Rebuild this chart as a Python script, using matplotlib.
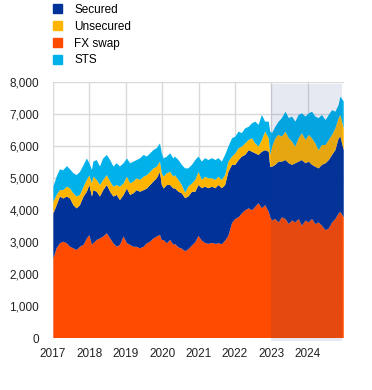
import numpy as np
import matplotlib
matplotlib.use("Agg")
import matplotlib.pyplot as plt
from matplotlib.patches import Patch, Rectangle
from matplotlib.ticker import FuncFormatter

plt.rcParams['font.family'] = ['Liberation Sans', 'DejaVu Sans']

# observation dates (decimal years) and volumes per segment
years = [2017.01, 2017.10, 2017.19, 2017.28, 2017.38, 2017.47, 2017.56, 2017.65, 2017.74, 2017.84,
         2017.93, 2018.00, 2018.07, 2018.11, 2018.20, 2018.29, 2018.38, 2018.48, 2018.57, 2018.66,
         2018.75, 2018.84, 2018.94, 2019.03, 2019.12, 2019.21, 2019.30, 2019.39, 2019.49, 2019.58,
         2019.67, 2019.76, 2019.85, 2019.94, 2019.99, 2020.04, 2020.13, 2020.22, 2020.31, 2020.35,
         2020.45, 2020.54, 2020.63, 2020.72, 2020.82, 2020.91, 2021.00, 2021.09, 2021.18, 2021.27,
         2021.37, 2021.46, 2021.55, 2021.64, 2021.73, 2021.82, 2021.92, 2022.01, 2022.10, 2022.19,
         2022.28, 2022.38, 2022.47, 2022.56, 2022.65, 2022.74, 2022.83, 2022.93, 2022.97, 2023.02,
         2023.11, 2023.20, 2023.29, 2023.39, 2023.48, 2023.57, 2023.66, 2023.75, 2023.84, 2023.94,
         2024.03, 2024.12, 2024.21, 2024.30, 2024.39, 2024.49, 2024.58, 2024.67, 2024.76, 2024.85,
         2024.90, 2024.99]

fx_swap = [2500, 2810, 2970, 3020, 2970, 2860, 2810, 2760, 2860, 2920,
           3120, 3220, 2920, 2970, 3070, 3120, 3180, 3280, 3120, 2970,
           2860, 2920, 3180, 2970, 2920, 2860, 2860, 2810, 2860, 2970,
           3020, 3120, 3180, 3230, 3070, 3070, 2970, 3070, 2920, 2950,
           2840, 2800, 2720, 2780, 2900, 3000, 3200, 3050, 2980, 2950,
           2980, 2950, 2970, 2940, 3050, 3200, 3600, 3730, 3780, 3900,
           4000, 4060, 4000, 4110, 4220, 4060, 4160, 3950, 3780, 3680,
           3730, 3620, 3780, 3730, 3570, 3680, 3620, 3730, 3520, 3680,
           3620, 3730, 3570, 3620, 3520, 3380, 3430, 3620, 3730, 3900,
           3950, 3780]

secured = [1400, 1350, 1460, 1350, 1460, 1510, 1350, 1300, 1300, 1510,
           1460, 1570, 1510, 1660, 1510, 1310, 1450, 1510, 1460, 1460,
           1620, 1400, 1300, 1710, 1560, 1670, 1770, 1770, 1770, 1710,
           1770, 1780, 1820, 1970, 1720, 1610, 1820, 1720, 1760, 1740,
           1740, 1730, 1660, 1650, 1680, 1580, 1590, 1640, 1760, 1740,
           1760, 1740, 1820, 1750, 1740, 2000, 1820, 1690, 1790, 1780,
           1730, 1820, 1830, 1670, 1510, 1770, 1720, 1880, 1580, 1680,
           1690, 1900, 1740, 1840, 1900, 1740, 1850, 1790, 2050, 1790,
           1900, 1690, 1790, 1690, 1900, 2090, 2140, 2110, 2150, 2350,
           2350, 2100]

unsecured = [370, 320, 200, 260, 310, 310, 370, 370, 320, 310,
             370, 300, 410, 420, 370, 360, 320, 310, 320, 310,
             310, 420, 360, 370, 360, 370, 370, 370, 420, 420,
             410, 410, 360, 320, 370, 370, 370, 410, 370, 410,
             370, 260, 170, 310, 260, 370, 410, 260, 310, 310,
             260, 260, 260, 260, 310, 320, 260, 360, 370, 310,
             360, 320, 420, 310, 260, 370, 580, 420, 370, 630,
             830, 840, 780, 890, 780, 730, 520, 730, 840, 730,
             840, 830, 730, 570, 620, 570, 630, 630, 680, 630,
             680, 680]

sts = [470, 570, 650, 620, 640, 600, 630, 670, 720, 670,
       670, 380, 420, 470, 620, 580, 670, 630, 670, 630,
       680, 630, 630, 570, 630, 620, 570, 670, 680, 580,
       580, 570, 580, 570, 620, 570, 520, 580, 570, 580,
       620, 630, 760, 570, 580, 620, 480, 570, 580, 570,
       630, 620, 580, 570, 630, 470, 570, 520, 520, 420,
       470, 410, 470, 680, 680, 780, 310, 520, 730, 420,
       360, 410, 580, 620, 630, 780, 780, 730, 620, 730,
       670, 830, 840, 1000, 940, 780, 780, 770, 520, 410,
       570, 840]

labels = ['FX swap', 'Secured', 'Unsecured', 'STS']
colors = ['#ff4b00', '#003299', '#ffb400', '#00b1ea']

fig = plt.figure(figsize=(3.72, 3.90), dpi=100)
ax = fig.add_axes([0.1425, 0.1326, 0.7825, 0.6564])

ax.stackplot(years, fx_swap, secured, unsecured, sts, colors=colors, linewidth=0, zorder=2)

# shaded period (2023 onwards)
shade = Rectangle((2023.0, -90), 1.935, 8050, facecolor='#1e3c8c', alpha=0.11,
                  edgecolor='none', zorder=3, clip_on=False)
ax.add_patch(shade)

ax.set_xlim(2017, 2025)
ax.set_ylim(0, 8000)
ax.set_xticks(range(2017, 2025))
ax.set_yticks(range(0, 8001, 1000))
ax.yaxis.set_major_formatter(FuncFormatter(lambda v, p: f'{int(v):,}'))
ax.grid(True, color='#d9d9d9', linewidth=1, zorder=0)
ax.set_axisbelow(True)
for s in ax.spines.values():
    s.set_visible(False)
ax.tick_params(length=0, labelsize=8.5, colors='#222222', pad=7)
ax.tick_params(axis='y', pad=10)

handles = [Patch(color=colors[1]), Patch(color=colors[2]), Patch(color=colors[0]), Patch(color=colors[3])]
fig.legend(handles, ['Secured', 'Unsecured', 'FX swap', 'STS'], loc='upper left',
           bbox_to_anchor=(0.115, 1.018), frameon=False, fontsize=8.5, handlelength=0.75,
           handleheight=0.75, handletextpad=1.0, labelspacing=0.42)

fig.savefig('out.png', dpi=100)
